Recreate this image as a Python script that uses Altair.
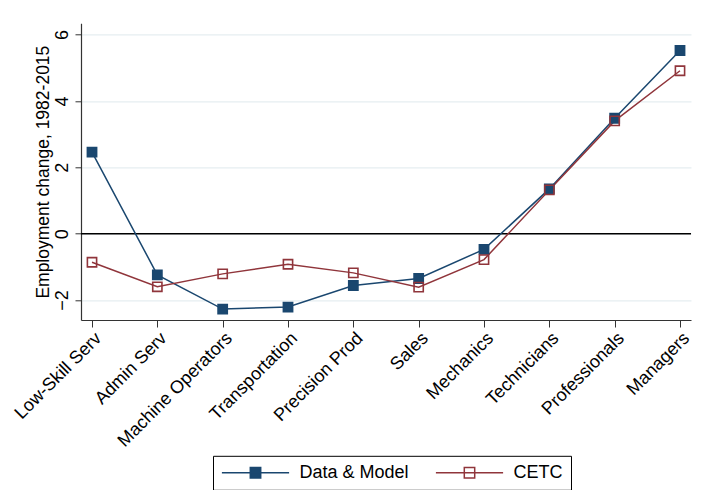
import altair as alt
import pandas as pd

occupations = ["Low-Skill Serv", "Admin Serv", "Machine Operators", "Transportation",
               "Precision Prod", "Sales", "Mechanics", "Technicians",
               "Professionals", "Managers"]
data_model = [2.46, -1.24, -2.27, -2.21, -1.56, -1.35, -0.47, 1.35, 3.48, 5.52]
cetc = [-0.86, -1.60, -1.21, -0.92, -1.18, -1.61, -0.78, 1.32, 3.40, 4.91]
series_names = ["Data & Model", "CETC"]
series_colors = ["#1a476f", "#90353b"]
series_fills = ["#1a476f", "transparent"]

rows = []
for s, vals in zip(series_names, [data_model, cetc]):
    for o, v in zip(occupations, vals):
        rows.append({"occ": o, "value": v, "series": s})
df = pd.DataFrame(rows)

FONT = "Liberation Sans"

x = alt.X("occ:N", sort=occupations, title=None,
          scale=alt.Scale(type="point", padding=0.1684, align=0.5),
          axis=alt.Axis(labelAngle=-45, labelFontSize=18, labelFont=FONT,
                        labelColor="black", tickSize=7, tickColor="#333",
                        domainColor="#333", domainWidth=1.2, grid=False,
                        labelPadding=2))
y = alt.Y("value:Q", title="Employment change, 1982-2015",
          scale=alt.Scale(domain=[-2.6, 6.34], nice=False, zero=False),
          axis=alt.Axis(values=[-2, 0, 2, 4, 6], labelAngle=-90, labelFontSize=18,
                        labelFont=FONT, labelColor="black", tickSize=6,
                        tickColor="#333", domainColor="#333", domainWidth=1.2,
                        grid=True, gridColor="#e6eef1", gridWidth=1.2,
                        titleFont=FONT, titleFontSize=17.5, titleFontWeight="normal",
                        titleColor="black", titlePadding=1, labelPadding=4))

legend = alt.Legend(title=None, orient="none", direction="horizontal",
                    legendX=132, legendY=432.5, strokeColor="black", padding=8,
                    labelFont=FONT, labelFontSize=18, labelColor="black",
                    symbolType="M-4.2,0H4.2M-0.65,-0.65H0.65V0.65H-0.65Z",
                    symbolSize=256, symbolStrokeWidth=1.5, symbolOffset=25.5,
                    labelOffset=35, columnPadding=23, cornerRadius=0)

stroke_scale = alt.Scale(domain=series_names, range=series_colors)
fill_scale = alt.Scale(domain=series_names, range=series_fills)

base = alt.Chart(df)

zero = alt.Chart(pd.DataFrame({"v": [0]})).mark_rule(color="black", strokeWidth=1.5).encode(y="v:Q")

lines = base.mark_line(strokeWidth=1.5).encode(
    x=x, y=y,
    stroke=alt.Stroke("series:N", scale=stroke_scale, legend=legend, sort=series_names),
    detail="series:N",
)

points = base.mark_point(shape="square", size=85, strokeWidth=1.6, opacity=1).encode(
    x=x, y=y,
    stroke=alt.Stroke("series:N", scale=stroke_scale, legend=legend, sort=series_names),
    fill=alt.Fill("series:N", scale=fill_scale, legend=legend, sort=series_names),
)

chart = alt.layer(zero, lines, points).properties(
    width=610, height=296.7,
    autosize=alt.AutoSizeParams(type="none"),
    padding={"left": 73, "top": 15.3, "right": 2, "bottom": 170},
    background="white",
).configure_view(stroke=None)

chart.save("out.html", embed_options={"renderer": "svg", "actions": False})
